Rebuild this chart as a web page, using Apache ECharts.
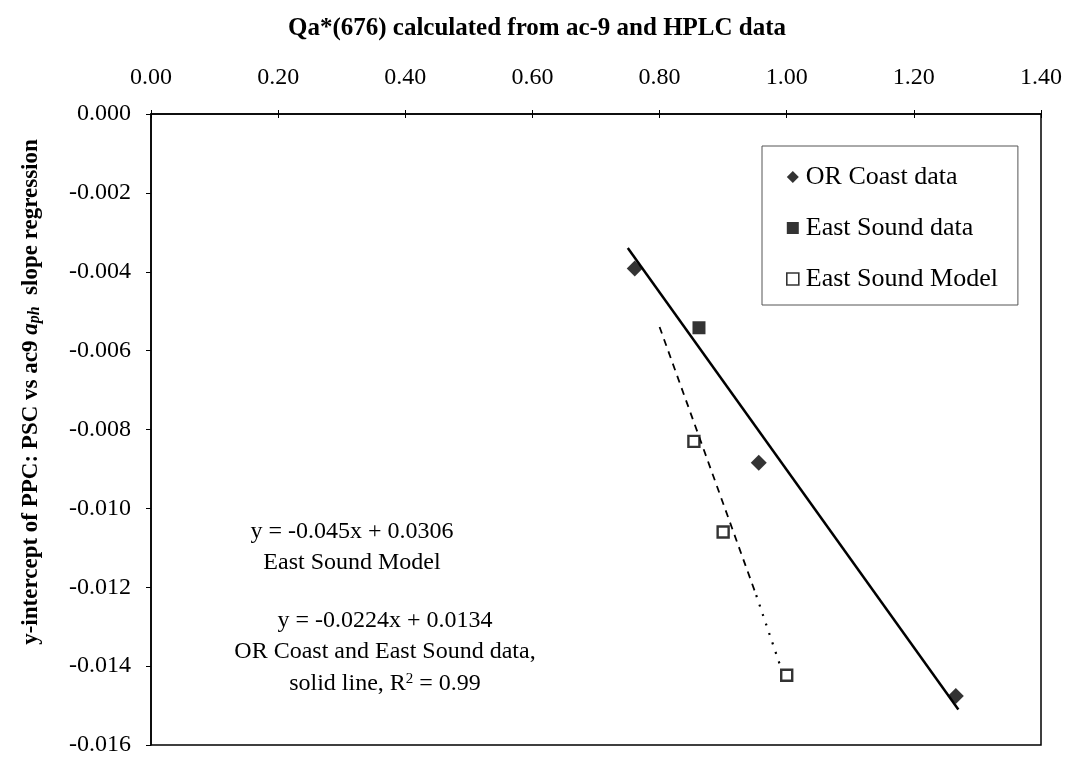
<!DOCTYPE html>
<html>
<head>
<meta charset="utf-8">
<script src="https://cdn.jsdelivr.net/npm/echarts@6/dist/echarts.min.js"></script>
<style>
html,body{margin:0;padding:0;background:#fff;}
#chart{width:1070px;height:758px;}
</style>
</head>
<body>
<div id="chart"></div>
<script>
// ---- data ----
const orCoast = [[0.761, -0.00392], [0.956, -0.00884], [1.266, -0.01476]];
const eastSoundData = [[0.862, -0.00542]];
const eastSoundModel = [[0.854, -0.00830], [0.900, -0.01060], [1.000, -0.01423]];
const solidFit = [[0.75, -0.0034], [1.27, -0.0151]];          // y = -0.0224x + 0.0134
const dashedFit = [[0.80, -0.0054], [0.952, -0.0122]];        // y = -0.045x + 0.0306
const dottedFit = [[0.952, -0.0122], [0.99, -0.0140]];
const xRange = [0, 1.4], xStep = 0.2;
const yRange = [-0.016, 0], yStep = 0.002;
const seriesNames = ['OR Coast data', 'East Sound data', 'East Sound Model'];
const titleText = 'Qa*(676) calculated from ac-9 and HPLC data';
const annotA = ['y = -0.045x + 0.0306', 'East Sound Model'];
const annotB = ['y = -0.0224x + 0.0134', 'OR Coast and East Sound data,', 'solid line, R{sup|2} = 0.99'];

const FONT = "'Liberation Serif','Times New Roman',serif";
const chart = echarts.init(document.getElementById('chart'));

const baseX = {
  type: 'value', position: 'top', min: xRange[0], max: xRange[1], interval: xStep,
  splitLine: {show: false}
};
const baseY = {
  type: 'value', min: yRange[0], max: yRange[1], interval: yStep,
  splitLine: {show: false}
};

function txt(x, y, text, size) {
  return {
    type: 'text', x: x, y: y, silent: true,
    style: {
      text: text, fontFamily: FONT, fontSize: size || 24, fill: '#000',
      align: 'center', verticalAlign: 'middle',
      rich: {sup: {fontFamily: FONT, fontSize: 15, padding: [0, 0, 10, 0], fill: '#000'}}
    }
  };
}

const option = {
  animation: false,
  backgroundColor: '#fff',
  title: {
    text: titleText, left: 532, top: 11, textAlign: 'center',
    textStyle: {fontFamily: FONT, fontWeight: 'bold', fontSize: 25, color: '#000'}
  },
  grid: {
    left: 151, top: 114, right: 29, bottom: 13,
    show: true, borderColor: '#000', borderWidth: 1.5, backgroundColor: 'transparent'
  },
  legend: {
    data: [
      {name: seriesNames[0], icon: 'diamond', itemStyle: {color: '#000'}},
      {name: seriesNames[1], icon: 'rect', itemStyle: {color: '#000'}},
      {name: seriesNames[2], icon: 'rect', itemStyle: {color: '#fff', borderColor: '#000', borderWidth: 1.6}}
    ],
    orient: 'vertical', left: 762, top: 146,
    padding: [18, 20, 13, 24], itemGap: 25, itemWidth: 12, itemHeight: 12,
    borderColor: '#555', borderWidth: 1, backgroundColor: '#fff',
    textStyle: {fontFamily: FONT, fontSize: 26, color: '#000', padding: [0, 0, 0, 2]},
    selectedMode: false
  },
  xAxis: [
    Object.assign({}, baseX, {
      axisLine: {show: true, lineStyle: {color: '#000', width: 1.5}},
      axisTick: {show: true, inside: false, length: 4, lineStyle: {color: '#000'}},
      axisLabel: {margin: 24, fontFamily: FONT, fontSize: 24, color: '#000',
        formatter: v => v.toFixed(2)}
    }),
    Object.assign({}, baseX, {
      axisLine: {show: false},
      axisTick: {show: true, inside: true, length: 4, lineStyle: {color: '#000'}},
      axisLabel: {show: false}
    })
  ],
  yAxis: [
    Object.assign({}, baseY, {
      axisLine: {show: true, lineStyle: {color: '#000', width: 1.5}},
      axisTick: {show: true, inside: false, length: 5, lineStyle: {color: '#000'}},
      axisLabel: {margin: 20, fontFamily: FONT, fontSize: 24, color: '#000',
        formatter: v => (Math.abs(v) < 1e-12 ? 0 : v).toFixed(3)}
    })
  ],
  graphic: [
    {
      type: 'text', x: 31, y: 392, rotation: Math.PI / 2, silent: true,
      style: {
        text: 'y-intercept of PPC: PSC vs ac9 {i|a}{s|ph}  slope regression',
        fontFamily: FONT, fontWeight: 'bold', fontSize: 23, fill: '#000',
        align: 'center', verticalAlign: 'middle',
        rich: {
          i: {fontFamily: FONT, fontWeight: 'bold', fontStyle: 'italic', fontSize: 23, fill: '#000'},
          s: {fontFamily: FONT, fontWeight: 'bold', fontStyle: 'italic', fontSize: 16, fill: '#000', padding: [8, 0, 0, 0]}
        }
      }
    },
    txt(352, 532, annotA[0]),
    txt(352, 563, annotA[1]),
    txt(385, 621, annotB[0]),
    txt(385, 652, annotB[1]),
    txt(385, 684, annotB[2])
  ],
  series: [
    {
      name: 'solid', type: 'line', data: solidFit, symbol: 'none', silent: true,
      lineStyle: {color: '#000', width: 2.5, type: 'solid'}, z: 2
    },
    {
      name: 'dashed', type: 'line', data: dashedFit, symbol: 'none', silent: true,
      lineStyle: {color: '#000', width: 1.8, type: [7, 6]}, z: 2
    },
    {
      name: 'dotted', type: 'line', data: dottedFit, symbol: 'none', silent: true,
      lineStyle: {color: '#000', width: 2.2, type: [2, 8]}, z: 2
    },
    {
      name: seriesNames[0], type: 'scatter', data: orCoast, symbol: 'diamond', symbolSize: 16,
      itemStyle: {color: '#000'}, z: 3
    },
    {
      name: seriesNames[1], type: 'scatter', data: eastSoundData, symbol: 'rect', symbolSize: 13,
      itemStyle: {color: '#000'}, z: 3
    },
    {
      name: seriesNames[2], type: 'scatter', data: eastSoundModel, symbol: 'rect', symbolSize: 11,
      itemStyle: {color: '#fff', borderColor: '#000', borderWidth: 2.4}, z: 3
    }
  ]
};
chart.setOption(option);
</script>
</body>
</html>
